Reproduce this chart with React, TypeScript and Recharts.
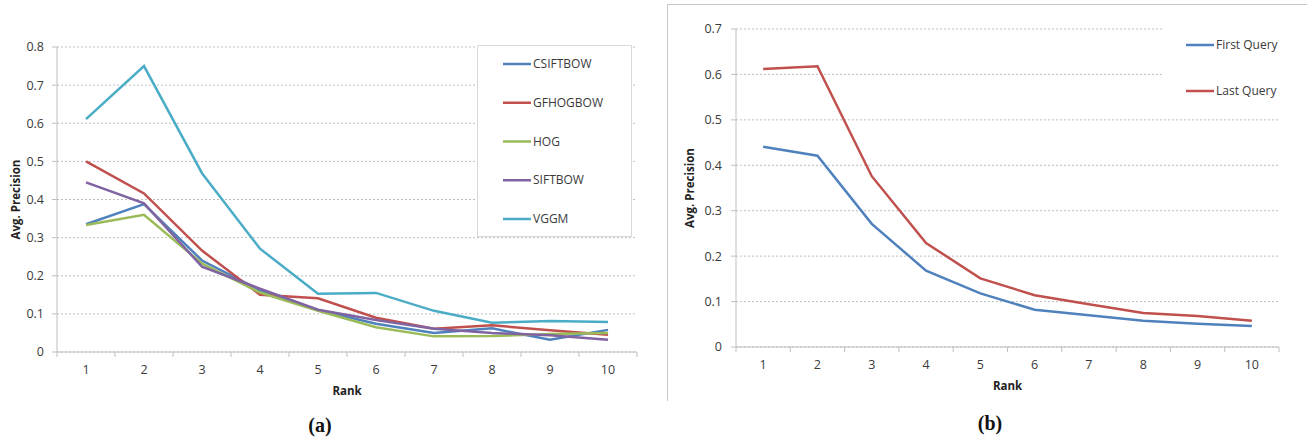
import React from "react";
import {
  CartesianGrid,
  Legend,
  Line,
  LineChart,
  XAxis,
  YAxis,
} from "recharts";

const ranks = [1, 2, 3, 4, 5, 6, 7, 8, 9, 10];

// chart (a)
const csiftbow = [0.335, 0.388, 0.24, 0.162, 0.11, 0.074, 0.05, 0.062, 0.032, 0.058];
const gfhogbow = [0.5, 0.416, 0.266, 0.15, 0.141, 0.09, 0.061, 0.07, 0.057, 0.045];
const hog = [0.333, 0.36, 0.232, 0.156, 0.108, 0.065, 0.041, 0.042, 0.047, 0.05];
const siftbow = [0.445, 0.39, 0.224, 0.166, 0.111, 0.084, 0.061, 0.05, 0.044, 0.032];
const vggm = [0.611, 0.75, 0.469, 0.271, 0.153, 0.155, 0.108, 0.077, 0.081, 0.079];
const ticksA = [0, 0.1, 0.2, 0.3, 0.4, 0.5, 0.6, 0.7, 0.8];

// chart (b)
const firstQuery = [0.441, 0.421, 0.271, 0.168, 0.118, 0.082, 0.07, 0.058, 0.051, 0.046];
const lastQuery = [0.612, 0.618, 0.376, 0.229, 0.151, 0.114, 0.094, 0.075, 0.068, 0.058];
const ticksB = [0, 0.1, 0.2, 0.3, 0.4, 0.5, 0.6, 0.7];

const seriesA = [
  { key: "CSIFTBOW", values: csiftbow, color: "#4F81BD" },
  { key: "GFHOGBOW", values: gfhogbow, color: "#C0504D" },
  { key: "HOG", values: hog, color: "#9BBB59" },
  { key: "SIFTBOW", values: siftbow, color: "#8064A2" },
  { key: "VGGM", values: vggm, color: "#4BACC6" },
];
const seriesB = [
  { key: "First Query", values: firstQuery, color: "#4F81BD" },
  { key: "Last Query", values: lastQuery, color: "#C0504D" },
];

const dataA = ranks.map((r, i) => {
  const row: any = { rank: r };
  seriesA.forEach((s) => (row[s.key] = s.values[i]));
  return row;
});
const dataB = ranks.map((r, i) => {
  const row: any = { rank: r };
  seriesB.forEach((s) => (row[s.key] = s.values[i]));
  return row;
});

const FONT = "'Open Sans', sans-serif";
const axisGrey = "#BFBFBF";
const textGrey = "#3A3A3A";

// excel style: tick marks between categories, label at the centre
const BandTick = (props: any) => {
  const { x, y, payload, index, visibleTicksCount, width } = props;
  const half = payload.offset ?? width / 20;
  return (
    <g>
      <line x1={x - half} x2={x - half} y1={y} y2={y + 5} stroke={axisGrey} />
      {index === visibleTicksCount - 1 && (
        <line x1={x + half} x2={x + half} y1={y} y2={y + 5} stroke={axisGrey} />
      )}
      <text
        x={x}
        y={y + 22}
        textAnchor="middle"
        fontSize={12.5}
        fontFamily={FONT}
        fill={textGrey}
      >
        {payload.value}
      </text>
    </g>
  );
};

const makeLegend =
  (lineX: number, firstY: number, step: number) =>
  ({ payload }: any) =>
    (
      <svg width="100%" height="100%" style={{ display: "block" }}>
        {(payload || []).map((p: any, i: number) => (
          <g key={p.value}>
            <line
              x1={lineX}
              x2={lineX + 28}
              y1={firstY + i * step}
              y2={firstY + i * step}
              stroke={p.color}
              strokeWidth={2.5}
            />
            <text
              x={lineX + 30}
              y={firstY + i * step + 4}
              fontSize={12}
              fontFamily={FONT}
              fill={textGrey}
            >
              {p.value}
            </text>
          </g>
        ))}
      </svg>
    );

const titleStyle = { fontSize: 11.5, fontWeight: 700, fontFamily: FONT, fill: "#222" };

const ChartA = () => (
  <LineChart
    width={660}
    height={400}
    data={dataA}
    margin={{ top: 47, right: 23, bottom: 18, left: 0 }}
  >
    <CartesianGrid vertical={false} stroke={axisGrey} strokeDasharray="2 2" />
    <XAxis
      dataKey="rank"
      type="category"
      scale="band"
      height={30}
      tickLine={false}
      tickSize={0}
      tickMargin={0}
      axisLine={{ stroke: axisGrey }}
      tick={<BandTick />}
      interval={0}
      label={{ value: "Rank", position: "bottom", offset: 5, style: titleStyle }}
    />
    <YAxis
      width={57}
      domain={[0, 0.8]}
      ticks={ticksA}
      interval={0}
      tickSize={5}
      tickMargin={8}
      tickLine={{ stroke: axisGrey }}
      axisLine={{ stroke: axisGrey }}
      tick={{ fontSize: 12.5, fontFamily: FONT, fill: textGrey }}
      label={{
        value: "Avg. Precision",
        angle: -90,
        position: "insideLeft",
        offset: 16,
        style: { ...titleStyle, textAnchor: "middle" },
      }}
    />
    {seriesA.map((s) => (
      <Line
        key={s.key}
        dataKey={s.key}
        stroke={s.color}
        strokeWidth={2.5}
        dot={false}
        isAnimationActive={false}
      />
    ))}
    <Legend
      layout="vertical"
      align="center"
      verticalAlign="middle"
      content={makeLegend(25, 18, 38.75)}
      wrapperStyle={{
        position: "absolute",
        left: 477,
        top: 45,
        width: 155,
        height: 192,
        background: "#fff",
        border: "1px solid #D9D9D9",
        boxSizing: "border-box",
      }}
    />
  </LineChart>
);

const ChartB = () => (
  <LineChart
    width={640}
    height={400}
    data={dataB}
    margin={{ top: 29, right: 28, bottom: 23, left: 0 }}
  >
    <CartesianGrid vertical={false} stroke={axisGrey} strokeDasharray="2 2" />
    <XAxis
      dataKey="rank"
      type="category"
      scale="band"
      height={30}
      tickLine={false}
      tickSize={0}
      tickMargin={0}
      axisLine={{ stroke: axisGrey }}
      tick={<BandTick />}
      interval={0}
      label={{ value: "Rank", position: "bottom", offset: 5, style: titleStyle }}
    />
    <YAxis
      width={69}
      domain={[0, 0.7]}
      ticks={ticksB}
      interval={0}
      tickSize={5}
      tickMargin={9}
      tickLine={{ stroke: axisGrey }}
      axisLine={{ stroke: axisGrey }}
      tick={{ fontSize: 12.5, fontFamily: FONT, fill: textGrey }}
      label={{
        value: "Avg. Precision",
        angle: -90,
        position: "insideLeft",
        offset: 23,
        style: { ...titleStyle, textAnchor: "middle" },
      }}
    />
    {seriesB.map((s) => (
      <Line
        key={s.key}
        dataKey={s.key}
        stroke={s.color}
        strokeWidth={2.5}
        dot={false}
        isAnimationActive={false}
      />
    ))}
    <Legend
      layout="vertical"
      align="center"
      verticalAlign="middle"
      content={makeLegend(22, 25, 46)}
      wrapperStyle={{
        position: "absolute",
        left: 497,
        top: 20,
        width: 143,
        height: 90,
        background: "#fff",
      }}
    />
  </LineChart>
);

const captionStyle: React.CSSProperties = {
  position: "absolute",
  fontFamily: "'Liberation Serif', serif",
  fontWeight: 700,
  fontSize: 20,
  transform: "translate(-50%, -50%)",
  color: "#111",
};

export default function App() {
  return (
    <div
      style={{
        position: "absolute",
        left: 0,
        top: 0,
        width: 1307,
        height: 438,
        background: "#fff",
        overflow: "hidden",
      }}
    >
      <div style={{ position: "absolute", left: 0, top: 0 }}>
        <ChartA />
      </div>
      <div
        style={{
          position: "absolute",
          left: 667,
          top: 4,
          width: 640,
          height: 396,
          borderLeft: "1px solid #C8C8C8",
          borderTop: "1px solid #C8C8C8",
        }}
      />
      <div style={{ position: "absolute", left: 667, top: 0 }}>
        <ChartB />
      </div>
      <div style={{ ...captionStyle, left: 320, top: 425 }}>(a)</div>
      <div style={{ ...captionStyle, left: 990, top: 423 }}>(b)</div>
    </div>
  );
}
